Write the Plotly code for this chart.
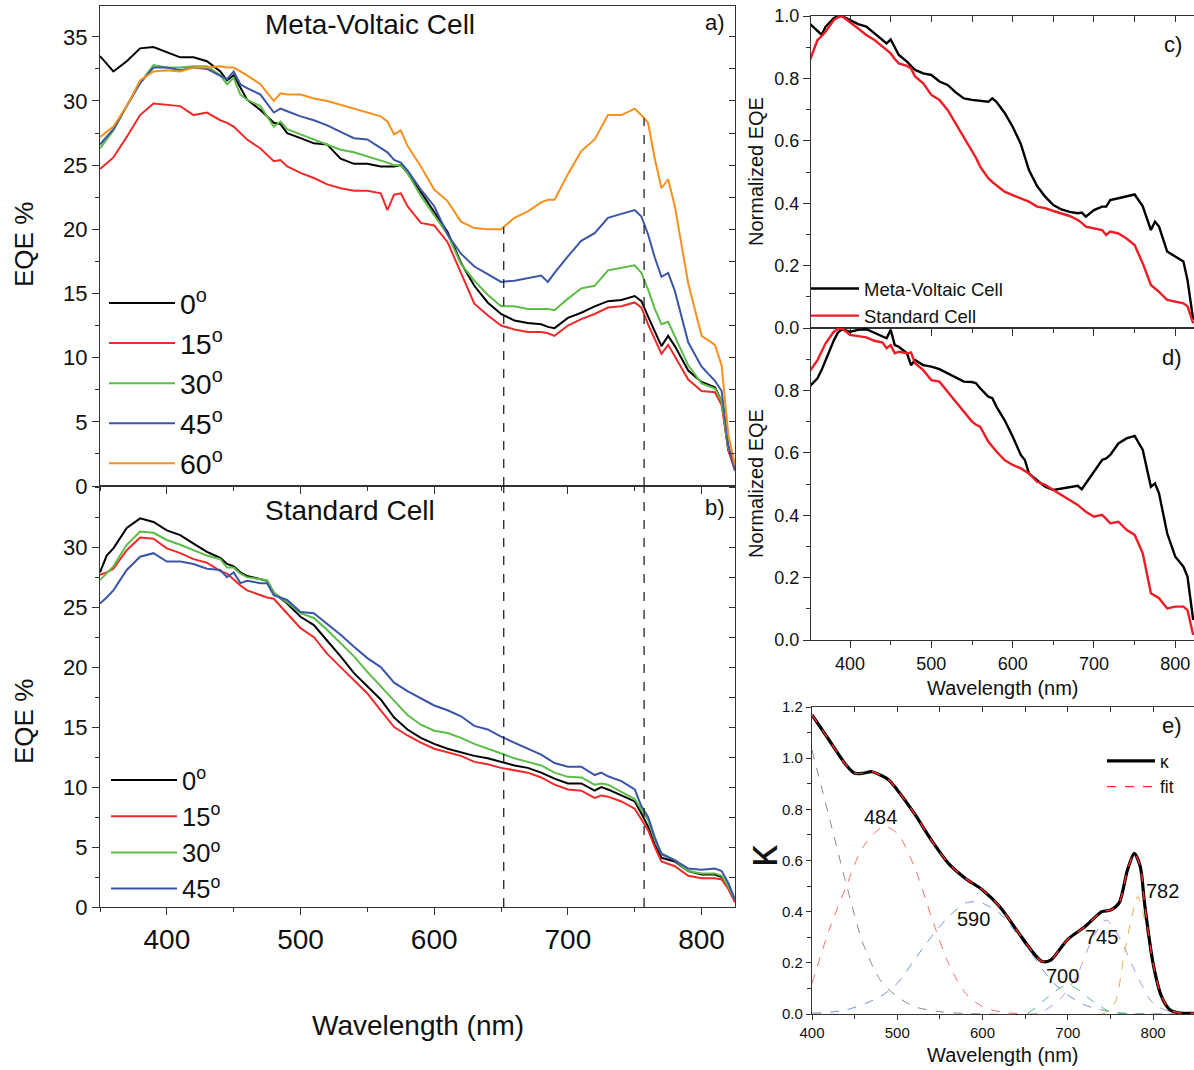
import numpy as np
import plotly.graph_objects as go

FONT = "Liberation Sans, Arial, sans-serif"
W, H = 1194, 1070

# ---------------- Panel a: Meta-Voltaic cell EQE (%) ----------------
wl_a = [350, 360, 370, 380, 390, 400, 410, 420, 430, 440,
        445, 450, 455, 460, 470, 480, 485, 490, 500, 510,
        520, 530, 540, 550, 560, 565, 570, 575, 580, 590,
        600, 610, 620, 630, 640, 650, 660, 670, 680, 685,
        690, 700, 710, 720, 730, 740, 750, 755, 760, 765,
        770, 775, 780, 790, 800, 810, 815, 820, 825]
mv_0 = [33.5, 32.3, 33.1, 34.1, 34.2, 33.8, 33.4, 33.4, 33.1, 32.3,
        31.6, 32.0, 31.0, 30.1, 29.3, 28.3, 28.2, 27.5, 27.1, 26.7,
        26.6, 25.5, 25.1, 25.1, 24.9, 24.9, 24.9, 25.0, 24.4, 22.9,
        21.3, 19.8, 17.4, 15.6, 14.3, 13.4, 12.9, 12.7, 12.6, 12.4,
        12.3, 13.1, 13.5, 14.0, 14.4, 14.5, 14.8, 14.4, 13.2, 12.0,
        10.9, 11.7, 10.9, 9.0, 8.1, 7.7, 6.6, 2.8, 1.4]
mv_15 = [24.7, 25.6, 27.2, 28.9, 29.8, 29.7, 29.6, 28.9, 29.1, 28.5,
         28.3, 28.0, 27.5, 27.0, 26.3, 25.3, 25.4, 24.9, 24.4, 24.0,
         23.5, 23.2, 23.0, 23.0, 22.8, 21.5, 22.7, 22.8, 21.8, 20.5,
         20.3, 19.0, 16.6, 14.2, 13.3, 12.5, 12.2, 12.0, 12.0, 11.9,
         11.7, 12.5, 13.0, 13.4, 13.9, 14.0, 14.3, 13.9, 12.6, 11.4,
         10.3, 11.0, 10.1, 8.3, 7.4, 7.3, 6.3, 2.8, 1.2]
mv_30 = [26.3, 27.7, 29.6, 31.4, 32.8, 32.6, 32.6, 32.7, 32.7, 32.0,
         31.3, 31.8, 30.5, 30.1, 29.6, 28.0, 28.4, 27.8, 27.4, 27.0,
         26.6, 26.2, 26.0, 25.7, 25.4, 25.2, 25.0, 25.0, 24.4, 22.6,
         21.1, 19.6, 17.3, 16.0, 14.9, 14.0, 14.0, 13.8, 13.8, 13.8,
         13.7, 14.6, 15.4, 15.6, 16.8, 17.0, 17.2, 16.6, 15.3, 13.8,
         12.6, 12.8, 11.7, 9.4, 8.0, 7.6, 6.6, 3.0, 1.6]
mv_45 = [26.6, 27.8, 29.6, 31.4, 32.6, 32.6, 32.4, 32.6, 32.5, 32.0,
         31.7, 32.3, 31.3, 31.0, 30.5, 29.1, 29.4, 29.2, 28.8, 28.5,
         28.1, 27.6, 27.1, 27.0, 26.3, 26.0, 25.4, 25.2, 24.6, 23.1,
         21.8, 19.6, 18.1, 17.1, 16.5, 15.9, 16.0, 16.2, 16.4, 15.9,
         16.6, 17.9, 19.1, 19.7, 20.9, 21.2, 21.5, 21.0, 19.6, 17.8,
         16.3, 16.6, 15.2, 11.2, 9.3, 8.2, 7.4, 3.2, 1.2]
mv_60 = [27.2, 28.0, 29.6, 31.6, 32.3, 32.4, 32.3, 32.6, 32.6, 32.7,
         32.6, 32.6, 32.3, 32.0, 31.3, 30.0, 30.6, 30.5, 30.5, 30.2,
         30.0, 29.7, 29.4, 29.1, 28.8, 28.4, 27.4, 27.7, 26.5, 24.9,
         23.1, 22.2, 20.6, 20.1, 20.0, 20.0, 20.9, 21.4, 22.1, 22.3,
         22.3, 24.3, 26.1, 27.0, 28.9, 28.9, 29.4, 28.9, 28.3, 25.5,
         23.2, 23.9, 21.8, 15.8, 11.7, 11.0, 9.4, 4.0, 1.6]
angles_a = ["0", "15", "30", "45", "60"]

# ---------------- Panel b: Standard cell EQE (%) ----------------
wl_b = [350, 355, 360, 370, 380, 390, 400, 410, 420, 430,
        440, 445, 450, 455, 460, 470, 475, 480, 490, 500,
        510, 520, 530, 540, 550, 560, 570, 580, 590, 600,
        610, 620, 630, 640, 650, 660, 670, 680, 690, 700,
        710, 720, 725, 730, 740, 750, 755, 760, 765, 770,
        780, 790, 800, 810, 815, 820, 825]
st_0 = [27.9, 29.3, 29.9, 31.6, 32.4, 32.1, 31.4, 31.0, 30.3, 29.6,
        29.1, 28.6, 28.4, 27.9, 27.6, 27.3, 27.2, 26.2, 25.3, 24.2,
        23.5, 22.2, 20.9, 19.5, 18.4, 17.3, 15.8, 14.8, 14.1, 13.6,
        13.2, 12.9, 12.6, 12.4, 12.1, 11.8, 11.6, 11.2, 10.7, 10.3,
        10.3, 9.7, 10.0, 9.8, 9.3, 8.8, 7.8, 6.7, 5.2, 4.1,
        3.8, 3.0, 2.7, 2.7, 2.5, 1.6, 0.5]
st_15 = [27.7, 27.9, 28.2, 29.75, 30.8, 30.7, 29.9, 29.5, 29.0, 28.7,
         28.0, 27.8, 27.3, 26.8, 26.4, 26.0, 25.8, 25.7, 24.5, 23.25,
         22.5, 21.1, 20.0, 18.9, 17.8, 16.4, 15.0, 14.3, 13.7, 13.2,
         12.9, 12.6, 12.1, 11.9, 11.6, 11.4, 11.2, 10.8, 10.2, 9.8,
         9.7, 9.1, 9.3, 9.2, 8.8, 8.2, 7.25, 6.4, 5.0, 3.8,
         3.4, 2.6, 2.4, 2.4, 2.3, 1.5, 0.4]
st_30 = [27.25, 27.8, 28.4, 30.2, 31.3, 31.2, 30.6, 30.2, 29.75, 29.3,
         29.0, 28.3, 28.3, 27.8, 27.5, 27.3, 27.25, 26.2, 25.4, 24.5,
         24.1, 23.1, 22.0, 20.9, 19.6, 18.4, 17.2, 16.0, 15.2, 14.7,
         14.5, 14.1, 13.6, 13.2, 12.8, 12.4, 12.1, 11.8, 11.2, 10.85,
         10.8, 10.2, 10.3, 10.2, 9.6, 9.0, 8.1, 7.25, 5.6, 4.5,
         3.9, 3.0, 2.8, 2.8, 2.6, 1.7, 0.6]
st_45 = [25.3, 25.8, 26.4, 28.1, 29.2, 29.5, 28.8, 28.8, 28.6, 28.2,
         28.1, 27.5, 27.9, 27.0, 27.2, 27.0, 27.0, 26.0, 25.6, 24.6,
         24.5, 23.6, 22.7, 21.7, 20.75, 20.0, 18.7, 18.0, 17.4, 16.8,
         16.4, 15.9, 15.1, 14.8, 14.2, 13.7, 13.2, 12.7, 12.0, 11.7,
         11.7, 11.0, 11.2, 10.9, 10.5, 9.8, 8.4, 7.5, 5.8, 4.4,
         3.9, 3.2, 3.1, 3.2, 3.0, 2.0, 0.6]
angles_b = ["0", "15", "30", "45"]

# dashed guide wavelengths (nm)
guide_wl = [652, 757]

# ---------------- Panels c, d: normalized EQE ----------------
wl_cd = [350, 360, 365, 370, 380, 385, 390, 400, 410, 420,
         430, 440, 445, 450, 455, 460, 470, 475, 480, 490,
         500, 510, 520, 530, 540, 550, 555, 560, 570, 575,
         580, 590, 600, 610, 615, 620, 630, 640, 650, 660,
         670, 680, 685, 690, 700, 710, 715, 720, 730, 740,
         750, 760, 770, 775, 780, 790, 800, 810, 815, 822]
c_mv = [0.976, 0.95, 0.94, 0.966, 0.993, 1.0, 1.0, 0.987, 0.974, 0.966,
        0.944, 0.923, 0.912, 0.925, 0.90, 0.875, 0.854, 0.84, 0.827, 0.816,
        0.811, 0.79, 0.779, 0.755, 0.736, 0.731, 0.73, 0.729, 0.725, 0.736,
        0.725, 0.69, 0.645, 0.59, 0.55, 0.506, 0.455, 0.421, 0.394, 0.38,
        0.372, 0.368, 0.37, 0.357, 0.378, 0.389, 0.389, 0.41, 0.416, 0.421,
        0.428, 0.39, 0.314, 0.341, 0.325, 0.245, 0.229, 0.213, 0.154, 0.026]
c_st = [0.854, 0.923, 0.935, 0.95, 0.987, 0.995, 1.0, 0.981, 0.96, 0.939,
        0.923, 0.902, 0.89, 0.88, 0.862, 0.848, 0.84, 0.832, 0.806, 0.784,
        0.747, 0.731, 0.699, 0.656, 0.613, 0.57, 0.545, 0.517, 0.48, 0.468,
        0.458, 0.437, 0.426, 0.416, 0.41, 0.405, 0.389, 0.384, 0.375, 0.368,
        0.359, 0.346, 0.337, 0.325, 0.32, 0.314, 0.298, 0.309, 0.303, 0.287,
        0.266, 0.207, 0.138, 0.127, 0.116, 0.09, 0.084, 0.079, 0.07, 0.015]
d_mv = [0.812, 0.839, 0.865, 0.897, 0.96, 0.985, 0.996, 0.988, 0.994, 0.996,
        0.985, 0.972, 0.967, 0.994, 0.945, 0.94, 0.919, 0.881, 0.897, 0.881,
        0.876, 0.868, 0.855, 0.842, 0.828, 0.827, 0.823, 0.807, 0.78, 0.775,
        0.748, 0.705, 0.652, 0.593, 0.577, 0.534, 0.513, 0.491, 0.481, 0.486,
        0.489, 0.494, 0.483, 0.502, 0.54, 0.577, 0.582, 0.593, 0.63, 0.646,
        0.654, 0.609, 0.491, 0.502, 0.47, 0.342, 0.267, 0.235, 0.203, 0.064]
d_st = [0.86, 0.897, 0.925, 0.951, 0.988, 0.997, 0.999, 0.978, 0.974, 0.97,
        0.959, 0.953, 0.935, 0.945, 0.919, 0.924, 0.919, 0.921, 0.887, 0.865,
        0.833, 0.828, 0.796, 0.764, 0.732, 0.7, 0.69, 0.684, 0.636, 0.62,
        0.604, 0.577, 0.561, 0.55, 0.542, 0.534, 0.507, 0.497, 0.481, 0.465,
        0.449, 0.433, 0.422, 0.411, 0.395, 0.401, 0.388, 0.374, 0.379, 0.353,
        0.337, 0.278, 0.15, 0.142, 0.134, 0.101, 0.107, 0.107, 0.096, 0.016]

# ---------------- Panel e: extinction coefficient and fit ----------------
wl_e = [400, 420, 440, 450, 460, 470, 480, 490, 500, 520, 540, 560, 580, 600,
        620, 640, 660, 670, 680, 690, 700, 720, 740, 750, 760, 770, 778, 785,
        790, 800, 810, 820, 830, 850]
kappa = [1.169, 1.071, 0.973, 0.941, 0.941, 0.947, 0.934, 0.915, 0.876, 0.784,
         0.68, 0.589, 0.53, 0.485, 0.42, 0.328, 0.237, 0.205, 0.211, 0.25,
         0.292, 0.341, 0.4, 0.406, 0.433, 0.563, 0.628, 0.576, 0.433, 0.198,
         0.068, 0.016, 0.005, 0.003]
fit = [1.169, 1.071, 0.973, 0.941, 0.941, 0.947, 0.934, 0.915, 0.876, 0.784,
       0.68, 0.589, 0.53, 0.485, 0.42, 0.328, 0.237, 0.205, 0.211, 0.25,
       0.292, 0.341, 0.4, 0.406, 0.433, 0.563, 0.628, 0.576, 0.433, 0.198,
       0.068, 0.016, 0.005, 0.003]
comp_uv_x = [400, 420, 440, 460, 480, 500, 520, 550, 600, 850]
comp_uv_y = [1.032, 0.771, 0.51, 0.274, 0.133, 0.068, 0.029, 0.009, 0.0, 0.0]
comp_484_x = [400, 420, 440, 460, 484, 500, 520, 540, 560, 580, 600, 620, 650, 850]
comp_484_y = [0.12, 0.328, 0.498, 0.654, 0.732, 0.706, 0.576, 0.38, 0.198, 0.081, 0.029, 0.009, 0.0, 0.0]
comp_590_x = [400, 440, 480, 500, 520, 540, 560, 580, 590, 600, 620, 640, 660, 680, 700, 720, 740, 760, 800, 850]
comp_590_y = [0.003, 0.016, 0.068, 0.12, 0.211, 0.302, 0.38, 0.433, 0.439, 0.433, 0.393, 0.315, 0.224, 0.133, 0.074, 0.035, 0.016, 0.005, 0.0, 0.0]
comp_700_x = [400, 650, 670, 690, 700, 710, 730, 750, 770, 850]
comp_700_y = [0.0, 0.0, 0.048, 0.1, 0.113, 0.1, 0.048, 0.009, 0.0, 0.0]
comp_745_x = [400, 660, 670, 690, 710, 730, 745, 760, 780, 800, 820, 840, 850]
comp_745_y = [0.0, 0.0, 0.009, 0.055, 0.146, 0.302, 0.367, 0.302, 0.159, 0.042, 0.009, 0.0, 0.0]
comp_782_x = [400, 740, 755, 765, 775, 782, 790, 800, 810, 820, 830, 850]
comp_782_y = [0.0, 0.0, 0.042, 0.211, 0.38, 0.459, 0.367, 0.185, 0.055, 0.009, 0.0, 0.0]
peak_labels = ["484", "590", "700", "745", "782"]
peak_label_x = [480, 589, 694, 740, 811]
peak_label_y = [0.77, 0.37, 0.15, 0.30, 0.48]

# ---------------- styling ----------------
angle_colors = ["#000000", "#ee2a2a", "#5bbd45", "#3b55a8", "#f7901e"]
comp_colors = ["#8a8a8a", "#ff6b6b", "#6f92db", "#4fbf7a", "#b993de", "#e0b050"]
AX = "#333333"


def px_x(p):
    return p / W


def px_y(p):
    return 1 - p / H


fig = go.Figure()

for lab, ys, col in zip(angles_a, [mv_0, mv_15, mv_30, mv_45, mv_60], angle_colors):
    fig.add_trace(go.Scatter(x=wl_a, y=ys, mode="lines", line=dict(color=col, width=2),
                             name=f"{lab}<sup>o</sup>", xaxis="x", yaxis="y",
                             legend="legend", legendgroup="a" + lab))
for lab, ys, col in zip(angles_b, [st_0, st_15, st_30, st_45], angle_colors):
    fig.add_trace(go.Scatter(x=wl_b, y=ys, mode="lines", line=dict(color=col, width=2),
                             name=f"{lab}<sup>o</sup>", xaxis="x2", yaxis="y2",
                             legend="legend2", legendgroup="b" + lab))

fig.add_trace(go.Scatter(x=wl_cd, y=c_mv, mode="lines", line=dict(color="#000000", width=2.4),
                         name="Meta-Voltaic Cell", xaxis="x3", yaxis="y3", legend="legend3"))
fig.add_trace(go.Scatter(x=wl_cd, y=c_st, mode="lines", line=dict(color="#ee1c24", width=2.4),
                         name="Standard Cell", xaxis="x3", yaxis="y3", legend="legend3"))
fig.add_trace(go.Scatter(x=wl_cd, y=d_mv, mode="lines", line=dict(color="#000000", width=2.4),
                         showlegend=False, xaxis="x4", yaxis="y4"))
fig.add_trace(go.Scatter(x=wl_cd, y=d_st, mode="lines", line=dict(color="#ee1c24", width=2.4),
                         showlegend=False, xaxis="x4", yaxis="y4"))

comps = [(comp_uv_x, comp_uv_y), (comp_484_x, comp_484_y), (comp_590_x, comp_590_y),
         (comp_700_x, comp_700_y), (comp_745_x, comp_745_y), (comp_782_x, comp_782_y)]
for (cx, cy), col in zip(comps, comp_colors):
    fig.add_trace(go.Scatter(x=cx, y=cy, mode="lines", line=dict(color=col, width=1, dash="dash",
                                                                  shape="spline", smoothing=0.8),
                             showlegend=False, xaxis="x5", yaxis="y5"))
fig.add_trace(go.Scatter(x=wl_e, y=kappa, mode="lines",
                         line=dict(color="#000000", width=3.2, shape="spline", smoothing=0.8),
                         name="κ", xaxis="x5", yaxis="y5", legend="legend4"))
fig.add_trace(go.Scatter(x=wl_e, y=fit, mode="lines",
                         line=dict(color="#ff2a2a", width=1.4, dash="dash", shape="spline", smoothing=0.8),
                         name="fit", xaxis="x5", yaxis="y5", legend="legend4"))

# empty helper traces so that the inward-tick overlay axes are drawn
for xa, ya in [("x", "y6"), ("x2", "y7"), ("x6", "y3"), ("x7", "y5")]:
    fig.add_trace(go.Scatter(x=[None], y=[None], mode="lines", xaxis=xa, yaxis=ya,
                             showlegend=False, hoverinfo="skip"))

# dashed guide lines
shapes = []
for g in guide_wl:
    top = float(np.interp(g, wl_a, mv_60))
    shapes.append(dict(type="line", xref="x", yref="y", x0=g, x1=g, y0=0, y1=top,
                       line=dict(color="#222222", width=1.3, dash="dash")))
    shapes.append(dict(type="line", xref="x2", yref="y2 domain", x0=g, x1=g, y0=0, y1=1,
                       line=dict(color="#222222", width=1.3, dash="dash")))


def axis(tick_size, **kw):
    base = dict(showline=True, linecolor=AX, linewidth=1.4, mirror=True, ticks="outside",
                tickcolor=AX, tickwidth=1.3, ticklen=7, showgrid=False, zeroline=False,
                automargin=False, tickfont=dict(family=FONT, size=tick_size, color="#111111"))
    base.update(kw)
    return base


def inner(rng, d, ln, **kw):
    base = dict(range=rng, dtick=d, ticks="inside", ticklen=ln, tickcolor=AX, tickwidth=1.2,
                showticklabels=False, showline=False, showgrid=False, zeroline=False,
                automargin=False)
    base.update(kw)
    return base


def minor(d):
    return dict(ticks="outside", ticklen=4, tickcolor=AX, tickwidth=1.1, dtick=d, showgrid=False)


dom_ab_x = [px_x(100), px_x(735)]
dom_cd_x = [px_x(811), 1.0]

layout = dict(
    width=W, height=H, margin=dict(l=0, r=0, t=0, b=0),
    paper_bgcolor="white", plot_bgcolor="white",
    font=dict(family=FONT, color="#111111"),
    shapes=shapes,
    xaxis=axis(26, domain=dom_ab_x, anchor="y", range=[350, 825], dtick=100, tick0=400,
               showticklabels=False, minor=minor(50)),
    yaxis=axis(22, domain=[px_y(486), px_y(6)], anchor="x", range=[0, 37.4], dtick=5,
               minor=minor(2.5)),
    yaxis6=inner([0, 37.4], 2.5, 6, overlaying="y", side="right", anchor="x"),
    xaxis2=axis(28, domain=dom_ab_x, anchor="y2", range=[350, 825], dtick=100, tick0=400,
                minor=minor(50)),
    yaxis2=axis(22, domain=[px_y(907), px_y(486)], anchor="x2", range=[0, 35.1],
                tickvals=[0, 5, 10, 15, 20, 25, 30], minor=minor(2.5)),
    yaxis7=inner([0, 35.1], 2.5, 6, overlaying="y2", side="right", anchor="x2"),
    xaxis3=axis(18, domain=dom_cd_x, anchor="y3", range=[352, 823], dtick=100, tick0=400,
                showticklabels=False, minor=minor(50)),
    xaxis6=inner([352, 823], 50, 6, tick0=400, overlaying="x3", side="top", anchor="y3"),
    yaxis3=axis(18, domain=[px_y(328), px_y(16)], anchor="x3", range=[0, 1.0],
                tickvals=[0, 0.2, 0.4, 0.6, 0.8, 1.0], tickformat=".1f", minor=minor(0.1)),
    xaxis4=axis(18, domain=dom_cd_x, anchor="y4", range=[352, 823], dtick=100, tick0=400,
                minor=minor(50)),
    yaxis4=axis(18, domain=[px_y(640), px_y(328)], anchor="x4", range=[0, 1.0],
                tickvals=[0, 0.2, 0.4, 0.6, 0.8], tickformat=".1f", minor=minor(0.1)),
    xaxis5=axis(15, domain=[px_x(812), 1.0], anchor="y5", range=[400, 848], dtick=100, tick0=400,
                ticklen=5, minor=minor(50)),
    xaxis7=inner([400, 848], 50, 5, tick0=400, overlaying="x5", side="top", anchor="y5"),
    yaxis5=axis(15, domain=[px_y(1014), px_y(707)], anchor="x5", range=[0, 1.2],
                dtick=0.2, tickformat=".1f", ticklen=5, minor=minor(0.1)),
    legend=dict(x=px_x(104), y=px_y(278), xanchor="left", yanchor="top", bgcolor="rgba(0,0,0,0)",
                font=dict(family=FONT, size=28.5, color="#111111"), itemwidth=66,
                tracegroupgap=0, traceorder="normal"),
    legend2=dict(x=px_x(106), y=px_y(757), xanchor="left", yanchor="top", bgcolor="rgba(0,0,0,0)",
                 font=dict(family=FONT, size=25.5, color="#111111"), itemwidth=66,
                 tracegroupgap=0, traceorder="normal"),
    legend3=dict(x=px_x(806), y=px_y(270), xanchor="left", yanchor="top", bgcolor="rgba(0,0,0,0)",
                 font=dict(family=FONT, size=18.5, color="#111111"), itemwidth=48,
                 tracegroupgap=0, traceorder="normal"),
    legend4=dict(x=px_x(1102), y=px_y(743), xanchor="left", yanchor="top", bgcolor="rgba(0,0,0,0)",
                 font=dict(family=FONT, size=17.5, color="#111111"), itemwidth=48,
                 tracegroupgap=0, traceorder="normal"),
)

ann = []


def txt(x, y, s, size, **kw):
    d = dict(x=x, y=y, xref="paper", yref="paper", text=s, showarrow=False,
             font=dict(family=FONT, size=size, color="#111111"))
    d.update(kw)
    ann.append(d)


# panel titles and labels
txt(px_x(263), px_y(25), "Meta-Voltaic Cell", 28, xanchor="left", yanchor="middle")
txt(px_x(263), px_y(511), "Standard Cell", 28, xanchor="left", yanchor="middle")
txt(px_x(727), px_y(22), "a)", 22, xanchor="right", yanchor="middle")
txt(px_x(727), px_y(508), "b)", 22, xanchor="right", yanchor="middle")
txt(px_x(1184), px_y(45), "c)", 22, xanchor="right", yanchor="middle")
txt(px_x(1184), px_y(357), "d)", 22, xanchor="right", yanchor="middle")
txt(px_x(1184), px_y(725), "e)", 22, xanchor="right", yanchor="middle")
# axis titles
txt(px_x(24), px_y(245), "EQE %", 26, textangle=-90, xanchor="center", yanchor="middle")
txt(px_x(24), px_y(722), "EQE %", 26, textangle=-90, xanchor="center", yanchor="middle")
txt(px_x(418), px_y(1025), "Wavelength (nm)", 28, xanchor="center", yanchor="middle")
txt(px_x(756), px_y(172), "Normalized EQE", 20, textangle=-90, xanchor="center", yanchor="middle")
txt(px_x(756), px_y(484), "Normalized EQE", 20, textangle=-90, xanchor="center", yanchor="middle")
txt(px_x(1003), px_y(688), "Wavelength (nm)", 20, xanchor="center", yanchor="middle")
txt(px_x(1003), px_y(1055), "Wavelength (nm)", 20, xanchor="center", yanchor="middle")
txt(px_x(761), px_y(856), "κ", 44, textangle=-90, xanchor="center", yanchor="middle")

for s, xv, yv in zip(peak_labels, peak_label_x, peak_label_y):
    ann.append(dict(x=xv, y=yv, xref="x5", yref="y5", text=s, showarrow=False,
                    font=dict(family=FONT, size=20, color="#111111")))

layout["annotations"] = ann
fig.update_layout(**layout)
fig.write_html("out.html", config={"displayModeBar": False},
               post_script="document.body.style.margin='0';document.body.style.padding='0';")
